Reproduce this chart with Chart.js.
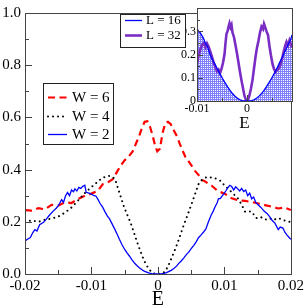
<!DOCTYPE html>
<html>
<head>
<meta charset="utf-8">
<script src="https://cdn.jsdelivr.net/npm/chart.js@4.4.0/dist/chart.umd.min.js"></script>
<style>
  html, body { margin: 0; padding: 0; background: #fff; }
  #wrap { position: relative; width: 307px; height: 307px; overflow: hidden; }
  #main { position: absolute; left: 0; top: 0; }
  #inset { position: absolute; left: 110px; top: 0; }
</style>
</head>
<body>
<div id="wrap">
  <canvas id="main" width="307" height="307"></canvas>
  <canvas id="inset" width="197" height="140"></canvas>
</div>
<script>
// main panel: density of states vs E for three disorder strengths
const w2E = [-0.0200, -0.0195, -0.0192, -0.0188, -0.0185, -0.0182, -0.0178, -0.0172, -0.0168, -0.0163, -0.0158, -0.0153, -0.0150, -0.0148, -0.0145, -0.0142, -0.0139, -0.0136, -0.0133, -0.0130, -0.0127, -0.0125, -0.0122, -0.0119, -0.0116, -0.0113, -0.0110, -0.0108, -0.0104, -0.0100, -0.0096, -0.0093, -0.0090, -0.0087, -0.0083, -0.0080, -0.0076, -0.0073, -0.0069, -0.0065, -0.0061, -0.0058, -0.0054, -0.0050, -0.0046, -0.0043, -0.0039, -0.0035, -0.0031, -0.0028, -0.0024, -0.0020, -0.0016, -0.0013, -0.0009, -0.0005, 0.0000, 0.0005, 0.0009, 0.0013, 0.0016, 0.0020, 0.0024, 0.0028, 0.0031, 0.0035, 0.0039, 0.0043, 0.0046, 0.0050, 0.0054, 0.0058, 0.0061, 0.0065, 0.0069, 0.0072, 0.0076, 0.0080, 0.0083, 0.0086, 0.0089, 0.0091, 0.0094, 0.0097, 0.0099, 0.0102, 0.0105, 0.0108, 0.0111, 0.0114, 0.0117, 0.0120, 0.0123, 0.0126, 0.0129, 0.0132, 0.0135, 0.0138, 0.0141, 0.0144, 0.0147, 0.0151, 0.0155, 0.0160, 0.0164, 0.0168, 0.0172, 0.0176, 0.0179, 0.0181, 0.0184, 0.0188, 0.0191, 0.0194, 0.0198, 0.0200];
const w2Dos = [0.127, 0.135, 0.140, 0.160, 0.170, 0.165, 0.189, 0.198, 0.210, 0.226, 0.240, 0.252, 0.262, 0.270, 0.285, 0.275, 0.300, 0.312, 0.300, 0.322, 0.315, 0.326, 0.318, 0.332, 0.328, 0.336, 0.340, 0.313, 0.310, 0.306, 0.300, 0.298, 0.285, 0.270, 0.255, 0.240, 0.222, 0.212, 0.192, 0.172, 0.150, 0.133, 0.112, 0.094, 0.079, 0.069, 0.054, 0.041, 0.031, 0.024, 0.016, 0.010, 0.006, 0.003, 0.001, 0.000, 0.000, 0.000, 0.002, 0.005, 0.009, 0.014, 0.021, 0.030, 0.040, 0.050, 0.062, 0.075, 0.083, 0.097, 0.110, 0.125, 0.139, 0.150, 0.162, 0.172, 0.200, 0.225, 0.240, 0.258, 0.272, 0.288, 0.290, 0.300, 0.307, 0.318, 0.330, 0.340, 0.335, 0.322, 0.334, 0.326, 0.318, 0.328, 0.316, 0.322, 0.300, 0.310, 0.288, 0.295, 0.275, 0.264, 0.255, 0.240, 0.232, 0.220, 0.205, 0.195, 0.180, 0.170, 0.180, 0.176, 0.160, 0.150, 0.138, 0.133];

const w4E = [-0.0200, -0.0190, -0.0180, -0.0170, -0.0160, -0.0150, -0.0140, -0.0130, -0.0120, -0.0110, -0.0100, -0.0090, -0.0083, -0.0078, -0.0073, -0.0068, -0.0064, -0.0061, -0.0056, -0.0051, -0.0046, -0.0041, -0.0036, -0.0031, -0.0027, -0.0023, -0.0019, -0.0014, -0.0010, -0.0006, 0.0000, 0.0006, 0.0010, 0.0015, 0.0019, 0.0024, 0.0029, 0.0034, 0.0039, 0.0044, 0.0049, 0.0055, 0.0061, 0.0066, 0.0071, 0.0076, 0.0081, 0.0088, 0.0094, 0.0100, 0.0106, 0.0113, 0.0121, 0.0126, 0.0131, 0.0136, 0.0141, 0.0148, 0.0155, 0.0160, 0.0166, 0.0172, 0.0178, 0.0184, 0.0190, 0.0198];
const w4Dos = [0.200, 0.205, 0.200, 0.208, 0.212, 0.220, 0.235, 0.255, 0.282, 0.310, 0.333, 0.355, 0.369, 0.372, 0.376, 0.372, 0.360, 0.335, 0.296, 0.257, 0.226, 0.195, 0.158, 0.120, 0.092, 0.065, 0.042, 0.021, 0.008, 0.002, 0.000, 0.002, 0.008, 0.028, 0.052, 0.083, 0.115, 0.152, 0.189, 0.222, 0.257, 0.300, 0.344, 0.360, 0.369, 0.372, 0.369, 0.365, 0.357, 0.340, 0.326, 0.308, 0.288, 0.265, 0.239, 0.240, 0.239, 0.214, 0.218, 0.210, 0.208, 0.215, 0.208, 0.212, 0.205, 0.200];

const w6E = [-0.0200, -0.0190, -0.0180, -0.0170, -0.0160, -0.0150, -0.0140, -0.0130, -0.0120, -0.0110, -0.0100, -0.0090, -0.0083, -0.0076, -0.0068, -0.0061, -0.0056, -0.0050, -0.0044, -0.0038, -0.0033, -0.0028, -0.0024, -0.0020, -0.0016, -0.0012, -0.0008, -0.0004, -0.0001, 0.0003, 0.0007, 0.0011, 0.0015, 0.0019, 0.0024, 0.0029, 0.0035, 0.0041, 0.0048, 0.0056, 0.0061, 0.0066, 0.0071, 0.0076, 0.0081, 0.0090, 0.0101, 0.0111, 0.0121, 0.0131, 0.0141, 0.0151, 0.0161, 0.0171, 0.0181, 0.0190, 0.0200];
const w6Dos = [0.245, 0.243, 0.252, 0.248, 0.265, 0.262, 0.275, 0.272, 0.288, 0.300, 0.308, 0.320, 0.344, 0.350, 0.363, 0.394, 0.415, 0.436, 0.450, 0.470, 0.500, 0.530, 0.560, 0.583, 0.585, 0.565, 0.530, 0.490, 0.470, 0.480, 0.540, 0.578, 0.583, 0.575, 0.550, 0.525, 0.485, 0.450, 0.425, 0.394, 0.380, 0.360, 0.355, 0.345, 0.338, 0.318, 0.307, 0.290, 0.282, 0.280, 0.276, 0.270, 0.264, 0.258, 0.251, 0.255, 0.245];

// inset: two system sizes
const l16E = [-0.0100, -0.0097, -0.0094, -0.0091, -0.0087, -0.0083, -0.0079, -0.0074, -0.0069, -0.0064, -0.0059, -0.0054, -0.0049, -0.0044, -0.0039, -0.0034, -0.0029, -0.0024, -0.0019, -0.0014, -0.0009, -0.0004, 0.0000, 0.0004, 0.0009, 0.0014, 0.0019, 0.0024, 0.0029, 0.0034, 0.0039, 0.0044, 0.0049, 0.0054, 0.0059, 0.0064, 0.0069, 0.0074, 0.0079, 0.0083, 0.0087, 0.0090];
const l16Dos = [0.313, 0.300, 0.295, 0.285, 0.270, 0.248, 0.235, 0.200, 0.178, 0.158, 0.137, 0.117, 0.097, 0.079, 0.062, 0.046, 0.032, 0.021, 0.012, 0.005, 0.002, 0.000, 0.000, 0.000, 0.002, 0.005, 0.012, 0.021, 0.032, 0.046, 0.062, 0.079, 0.097, 0.117, 0.137, 0.160, 0.182, 0.205, 0.228, 0.248, 0.262, 0.285];

const l32E = [-0.0100, -0.0097, -0.0093, -0.0089, -0.0086, -0.0083, -0.0080, -0.0077, -0.0073, -0.0070, -0.0066, -0.0063, -0.0060, -0.0057, -0.0054, -0.0051, -0.0048, -0.0045, -0.0043, -0.0041, -0.0039, -0.0037, -0.0035, -0.0033, -0.0031, -0.0029, -0.0026, -0.0023, -0.0020, -0.0017, -0.0014, -0.0011, -0.0008, -0.0005, -0.0002, 0.0000, 0.0002, 0.0005, 0.0008, 0.0011, 0.0014, 0.0017, 0.0020, 0.0023, 0.0026, 0.0029, 0.0032, 0.0034, 0.0036, 0.0039, 0.0042, 0.0045, 0.0048, 0.0051, 0.0054, 0.0057, 0.0060, 0.0063, 0.0066, 0.0070, 0.0073, 0.0076, 0.0079, 0.0082, 0.0085, 0.0088, 0.0090];
const l32Dos = [0.160, 0.195, 0.225, 0.245, 0.250, 0.232, 0.248, 0.235, 0.210, 0.190, 0.160, 0.145, 0.128, 0.135, 0.120, 0.138, 0.165, 0.200, 0.250, 0.290, 0.300, 0.320, 0.335, 0.318, 0.328, 0.295, 0.275, 0.240, 0.205, 0.165, 0.125, 0.088, 0.055, 0.022, 0.005, 0.000, 0.005, 0.025, 0.055, 0.090, 0.140, 0.190, 0.230, 0.260, 0.295, 0.320, 0.310, 0.332, 0.320, 0.300, 0.285, 0.235, 0.195, 0.160, 0.138, 0.125, 0.135, 0.140, 0.150, 0.180, 0.210, 0.235, 0.255, 0.240, 0.262, 0.245, 0.230];

const mainXTicks = [-0.02, -0.01, 0, 0.01, 0.02];
const mainYTicks = [0, 0.2, 0.4, 0.6, 0.8, 1.0];
const insetXTicks = [-0.01, 0];
const insetYTicks = [0, 0.1, 0.2, 0.3];

const serif = "'Liberation Serif', 'Times New Roman', serif";
const axisColor = "#444";

function pts(xs, ys) {
  return xs.map((x, i) => ({ x, y: ys[i] }));
}

function fmt(v, digits) {
  const r = Math.round(v * Math.pow(10, digits)) / Math.pow(10, digits);
  return r === 0 ? "0" : String(r);
}

// box, inward tick marks (major + minor), all through the chart scales
const framePlugin = {
  id: "frame",
  beforeDatasetsDraw(chart, args, opts) {
    const { ctx, chartArea: a, scales } = chart;
    if (opts.background) {
      ctx.save();
      ctx.fillStyle = opts.background;
      ctx.fillRect(a.left, a.top, a.right - a.left, a.bottom - a.top);
      ctx.restore();
    }
    if (opts.textureDataset == null) return;
    // grid-textured area under one dataset (xmgrace style pattern fill)
    const ds = chart.data.datasets[opts.textureDataset];
    const first = ds.data[0];
    const last = ds.data[ds.data.length - 1];
    const y0 = scales.y.getPixelForValue(0);
    ctx.save();
    ctx.beginPath();
    ctx.rect(a.left, a.top, a.right - a.left, a.bottom - a.top);
    ctx.clip();
    ctx.beginPath();
    ctx.moveTo(scales.x.getPixelForValue(first.x), y0);
    ds.data.forEach((p) => ctx.lineTo(scales.x.getPixelForValue(p.x), scales.y.getPixelForValue(p.y)));
    ctx.lineTo(scales.x.getPixelForValue(last.x), y0);
    ctx.closePath();
    ctx.clip();
    ctx.fillStyle = opts.textureColor;
    ctx.fillRect(a.left, a.top, a.right - a.left, a.bottom - a.top);
    ctx.fillStyle = "#fff";
    for (let x = Math.floor(a.left); x < a.right; x += 2) {
      for (let y = Math.floor(a.top); y < a.bottom; y += 2) {
        ctx.fillRect(x, y, 1, 1);
      }
    }
    ctx.restore();
  },
  afterDatasetsDraw(chart, args, opts) {
    const { ctx, chartArea: a, scales } = chart;
    ctx.save();
    ctx.strokeStyle = axisColor;
    ctx.lineWidth = 1;
    ctx.strokeRect(Math.round(a.left) + 0.5, Math.round(a.top) + 0.5, Math.round(a.right - a.left), Math.round(a.bottom - a.top));
    ctx.beginPath();
    const xs = scales.x;
    for (let v = xs.min; v <= xs.max + 1e-9; v += opts.xMinor) {
      const major = Math.abs(v / opts.xMajor - Math.round(v / opts.xMajor)) < 1e-6;
      const len = major ? opts.majorLen : opts.minorLen;
      const px = Math.round(xs.getPixelForValue(v)) + 0.5;
      ctx.moveTo(px, a.bottom);
      ctx.lineTo(px, a.bottom - len);
    }
    const ys = scales.y;
    for (let v = ys.min; v <= ys.max + 1e-9; v += opts.yMinor) {
      const major = Math.abs(v / opts.yMajor - Math.round(v / opts.yMajor)) < 1e-6;
      const len = major ? opts.majorLen : opts.minorLen;
      const py = Math.round(ys.getPixelForValue(v)) + 0.5;
      ctx.moveTo(a.left, py);
      ctx.lineTo(a.left + len, py);
    }
    ctx.stroke();
    ctx.restore();
  },
};

// boxed legend with line samples taken from the datasets
const boxLegendPlugin = {
  id: "boxLegend",
  afterDraw(chart, args, opts) {
    const { ctx } = chart;
    const b = opts.box;
    ctx.save();
    ctx.fillStyle = "#fff";
    ctx.fillRect(b.x, b.y, b.w, b.h);
    ctx.strokeStyle = "#222";
    ctx.lineWidth = 1;
    ctx.strokeRect(b.x + 0.5, b.y + 0.5, b.w, b.h);
    ctx.font = `${opts.fontSize}px ${serif}`;
    ctx.textBaseline = "middle";
    opts.order.forEach((di, i) => {
      const ds = chart.data.datasets[di];
      const y = opts.rows[i];
      ctx.save();
      ctx.strokeStyle = ds.borderColor;
      ctx.lineWidth = ds.borderWidth;
      ctx.lineCap = ds.borderCapStyle || "butt";
      ctx.setLineDash(ds.borderDash || []);
      ctx.beginPath();
      ctx.moveTo(opts.lineX[0], y + 0.5);
      ctx.lineTo(opts.lineX[1], y + 0.5);
      ctx.stroke();
      ctx.restore();
      ctx.fillStyle = "#000";
      ctx.fillText(ds.label, opts.textX, y + 1);
    });
    ctx.restore();
  },
};

const mainChart = new Chart(document.getElementById("main"), {
  type: "line",
  data: {
    datasets: [
      { label: "W = 2", data: pts(w2E, w2Dos), borderColor: "#0000ff", borderWidth: 1.3 },
      { label: "W = 4", data: pts(w4E, w4Dos), borderColor: "#000000", borderWidth: 2, borderDash: [0.01, 5], borderCapStyle: "round" },
      { label: "W = 6", data: pts(w6E, w6Dos), borderColor: "#ff0000", borderWidth: 2.2, borderDash: [7, 4.5] },
    ],
  },
  options: {
    responsive: false,
    animation: false,
    parsing: false,
    layout: { padding: { left: 0, right: 14, top: 6, bottom: 0 } },
    elements: { point: { radius: 0 }, line: { tension: 0 } },
    plugins: {
      legend: { display: false },
      tooltip: { enabled: false },
      frame: { xMajor: 0.01, xMinor: 0.005, yMajor: 0.2, yMinor: 0.1, majorLen: 7, minorLen: 4 },
      boxLegend: {
        box: { x: 43, y: 83, w: 70, h: 61 },
        order: [2, 1, 0],
        rows: [97, 116, 134],
        lineX: [48, 67],
        textX: 72,
        fontSize: 15,
      },
    },
    scales: {
      x: {
        type: "linear",
        min: -0.02,
        max: 0.02,
        afterBuildTicks: (s) => { s.ticks = mainXTicks.map((value) => ({ value })); },
        afterFit: (s) => { s.height = 33; },
        grid: { display: false, drawTicks: false },
        border: { display: false },
        ticks: { padding: 3, color: "#000", font: { family: serif, size: 15 }, maxRotation: 0, callback: (v) => fmt(v, 2) },
        title: { display: true, text: "E", color: "#000", font: { family: serif, size: 20, lineHeight: 1 }, padding: { top: 0, bottom: -2.5 } },
      },
      y: {
        type: "linear",
        min: 0,
        max: 1,
        afterBuildTicks: (s) => { s.ticks = mainYTicks.map((value) => ({ value })); },
        afterFit: (s) => { s.width = 25; },
        grid: { display: false, drawTicks: false },
        border: { display: false },
        ticks: { padding: 4, color: "#000", font: { family: serif, size: 15 }, callback: (v) => v.toFixed(1) },
      },
    },
  },
  plugins: [framePlugin, boxLegendPlugin],
});

const insetChart = new Chart(document.getElementById("inset"), {
  type: "line",
  data: {
    datasets: [
      { label: "L = 16", data: pts(l16E, l16Dos), borderColor: "#0000ff", borderWidth: 1.3 },
      { label: "L = 32", data: pts(l32E, l32Dos), borderColor: "#7a2dc4", borderWidth: 2.6 },
    ],
  },
  options: {
    responsive: false,
    animation: false,
    parsing: false,
    layout: { padding: { left: 0, right: 15, top: 6, bottom: 0 } },
    elements: { point: { radius: 0 }, line: { tension: 0 } },
    plugins: {
      legend: { display: false },
      tooltip: { enabled: false },
      frame: { background: "#fff", textureDataset: 0, textureColor: "#8080ff", xMajor: 0.01, xMinor: 0.005, yMajor: 0.1, yMinor: 0.05, majorLen: 6, minorLen: 3 },
      boxLegend: {
        box: { x: 10, y: 14, w: 65, h: 33 },
        order: [0, 1],
        rows: [20, 35],
        lineX: [15, 32],
        textX: 36,
        fontSize: 13,
      },
    },
    scales: {
      x: {
        type: "linear",
        min: -0.01,
        max: 0.009,
        afterBuildTicks: (s) => { s.ticks = insetXTicks.map((value) => ({ value })); },
        afterFit: (s) => { s.height = 39; },
        grid: { display: false, drawTicks: false },
        border: { display: false },
        ticks: { padding: 1, color: "#000", font: { family: serif, size: 12 }, maxRotation: 0, callback: (v) => fmt(v, 2) },
        title: { display: true, text: "E", color: "#000", font: { family: serif, size: 17, lineHeight: 1 }, padding: { top: 0, bottom: 7.5 } },
      },
      y: {
        type: "linear",
        min: 0,
        max: 0.4,
        afterBuildTicks: (s) => { s.ticks = insetYTicks.map((value) => ({ value })); },
        afterFit: (s) => { s.width = 87; },
        grid: { display: false, drawTicks: false },
        border: { display: false },
        ticks: { padding: 1, color: "#000", font: { family: serif, size: 12 }, callback: (v) => fmt(v, 1) },
      },
    },
  },
  plugins: [framePlugin, boxLegendPlugin],
});
</script>
</body>
</html>
